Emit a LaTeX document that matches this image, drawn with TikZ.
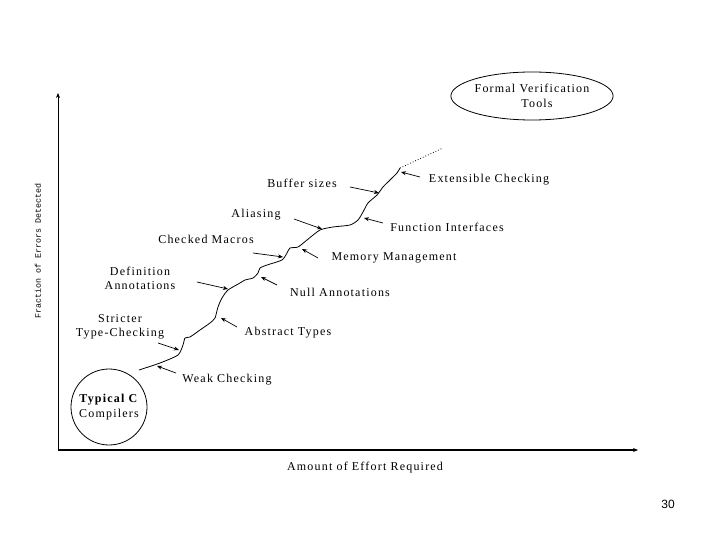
\documentclass[tikz,border=0pt]{standalone}
\usepackage{fontspec}
\setmainfont{Liberation Serif}
\newfontfamily\labfont[LetterSpace=10]{Liberation Serif}
\newfontfamily\axfont{Liberation Mono}
\newfontfamily\pgfont{Liberation Sans}
\usetikzlibrary{arrows.meta,shapes.geometric}
\begin{document}
\begin{tikzpicture}[x=1pt,y=-1pt,
  lab/.style={font=\labfont\fontsize{12}{14}\selectfont, inner sep=0pt, align=center},
  pointer/.style={line width=0.7pt, -{Stealth[length=5pt,width=4pt]}},
  curve/.style={line width=0.8pt},
  axis/.style={-{Stealth[length=5pt,width=4pt]}}]
\useasboundingbox (0,0) rectangle (720,540);
\fill[white] (0,0) rectangle (720,540);
% axes
\coordinate (O) at (58,450);
\coordinate (ytop) at (58,93);
\coordinate (xend) at (638,450);
\draw[axis, line width=0.8pt] (O) -- (ytop);
\draw[axis, line width=1.6pt] (O) -- (xend);
\node[font=\axfont\fontsize{8.3}{10}\selectfont, rotate=90, inner sep=0pt] (ylab) at (38,251) {Fraction of Errors Detected};
\node[lab] (xlab) at (365,468) {Amount of Effort Required};
% circle and ellipse
\node[draw, circle, minimum size=76pt, line width=0.8pt, inner sep=0pt, align=center, font=\labfont\fontsize{12}{15}\selectfont] (tcc) at (109,407) {\textbf{Typical C}\\Compilers};
\node[draw, ellipse, minimum width=144pt, minimum height=48pt, line width=0.8pt, inner sep=0pt, align=center, font=\labfont\fontsize{12}{15}\selectfont] (fvt) at (532,96) {Formal Verification\\\hspace*{10pt}Tools};
% curve
\draw[curve] plot[smooth, tension=0.4] coordinates {(139,370) (160,363) (178,355) (183,345) (185,338) (190,337) (200,330) (210,323) (215,318) (218,307) (222,298) (228,290) (240,283) (245,280) (253,278) (258,273) (260,268) (267,265) (282,260) (287,253) (290,248) (298,247) (307,240) (320,230) (333,227) (350,225) (358,220) (363,212) (368,203) (377,195) (383,187) (390,180) (397,173) (400,168)};
\coordinate (cend) at (400,168);
\coordinate (dend) at (443,148);
\draw[line width=0.8pt, dotted] (cend) -- (dend);
% labels
\node[lab] (buf) at (302,183) {Buffer sizes};
\node[lab] (ali) at (256,215) {Aliasing};
\node[lab] (cm) at (206,239) {Checked Macros};
\node[lab] (da) at (140,278) {Definition\\Annotations};
\node[lab] (stc) at (120,327) {Stricter\\Type-Checking};
\node[lab] (wc) at (227,380) {Weak Checking};
\node[lab] (at) at (288,333) {Abstract Types};
\node[lab] (na) at (340,292) {Null Annotations};
\node[lab] (mm) at (394,258) {Memory Management};
\node[lab] (fi) at (447,227) {Function Interfaces};
\node[lab] (ec) at (489,180) {Extensible Checking};
% pointer coordinates
\coordinate (bufS) at (350,187); \coordinate (bufE) at (379,193);
\coordinate (aliS) at (294,219); \coordinate (aliE) at (322,229);
\coordinate (cmS) at (253,253); \coordinate (cmE) at (283,257);
\coordinate (daS) at (197,282); \coordinate (daE) at (228,289);
\coordinate (stcS) at (158,343); \coordinate (stcE) at (179,350);
\coordinate (wcS) at (176,373); \coordinate (wcE) at (157,366);
\coordinate (atS) at (237,327); \coordinate (atE) at (221,318);
\coordinate (naS) at (277,285); \coordinate (naE) at (261,277);
\coordinate (mmS) at (318,258); \coordinate (mmE) at (302,249);
\coordinate (fiS) at (383,223); \coordinate (fiE) at (364,218);
\coordinate (ecS) at (420,177); \coordinate (ecE) at (401,172);
\foreach \p in {buf,ali,cm,da,stc,wc,at,na,mm,fi,ec}
  \draw[pointer] (\p S) -- (\p E);
% page number
\node[font=\pgfont\fontsize{12}{14}\selectfont, inner sep=0pt] (pg) at (668,504) {30};
\end{tikzpicture}
\end{document}
